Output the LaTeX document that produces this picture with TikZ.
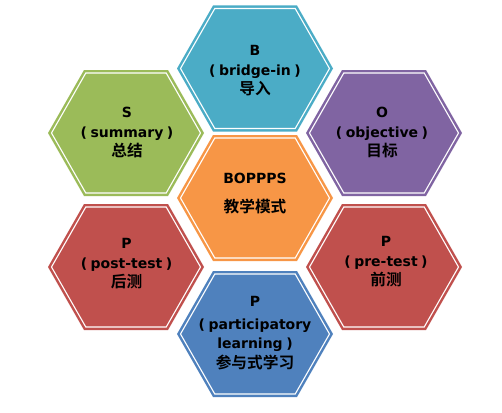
\documentclass[tikz,border=0pt]{standalone}
\usepackage{fontspec}
\setmainfont{DejaVu Sans}[UprightFont={* Bold}, BoldFont={* Bold}]
\newfontfamily\cjk{Noto Sans CJK SC}[UprightFont={* Bold}, BoldFont={* Bold}, Scale=1.12]
\definecolor{cteal}{HTML}{4BACC6}
\definecolor{cpurple}{HTML}{8064A2}
\definecolor{cred}{HTML}{C0504D}
\definecolor{cblue}{HTML}{4F81BD}
\definecolor{cgreen}{HTML}{9BBB59}
\definecolor{corange}{HTML}{F79646}
\tikzset{
  pics/hexa/.style={code={
    \fill[#1] (-78,0)--(-42,-63)--(42,-63)--(78,0)--(42,63)--(-42,63)--cycle;
    \draw[white, line width=1.1pt, line join=miter] (-74.5,0)--(-40.2,-60)--(40.2,-60)--(74.5,0)--(40.2,60)--(-40.2,60)--cycle;
  }},
  lbl/.style={align=center, text=black, inner sep=0pt,
    font=\fontsize{14}{19.5}\selectfont},
}
\newcommand\lp{(\hspace{0.25em}}
\newcommand\rp{\hspace{0.25em})}
\begin{document}
\begin{tikzpicture}[x=1pt,y=-1pt]
\useasboundingbox (0,0) rectangle (502,412);
\pic at (255,68.5) {hexa=cteal};
\pic at (126,133) {hexa=cgreen};
\pic at (384,133) {hexa=cpurple};
\pic at (255,198) {hexa=corange};
\pic at (126,267) {hexa=cred};
\pic at (384,267) {hexa=cred};
\pic at (255,334) {hexa=cblue};
\node[lbl] (b) at (255,71) {B\\\lp bridge-in\rp\\{\cjk 导入}};
\node[lbl] (s) at (127,133) {S\\\lp summary\rp\\{\cjk 总结}};
\node[lbl] (o) at (382,133) {O\\\lp objective\rp\\{\cjk 目标}};
\node[lbl, font=\fontsize{14}{29}\selectfont] (c) at (255,194) {BOPPPS\\{\cjk 教学模式}};
\node[lbl] (pt) at (126.5,264) {P\\\lp post-test\rp\\{\cjk 后测}};
\node[lbl] (pr) at (386,262) {P\\\lp pre-test\rp\\{\cjk 前测}};
\node[lbl] (pl) at (255,333) {P\\[3pt]\lp participatory\\learning\rp\\{\cjk 参与式学习}};
\end{tikzpicture}
\end{document}
